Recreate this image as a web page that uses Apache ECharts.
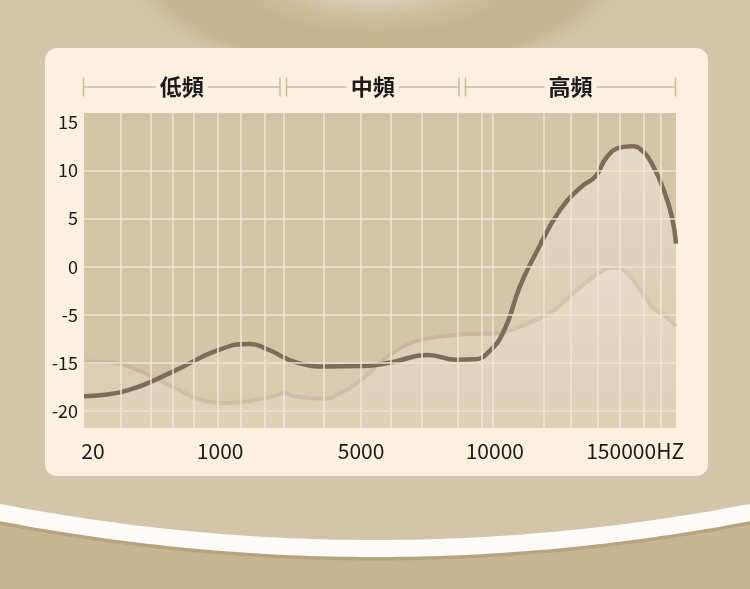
<!DOCTYPE html>
<html><head><meta charset="utf-8">
<script src="https://cdn.jsdelivr.net/npm/echarts@6/dist/echarts.min.js"></script>
<style>html,body{margin:0;padding:0;background:#d3c5a9;}#c{width:750px;height:589px;}</style>
</head><body><div id="c"></div>
<script>
// ---- data ----
const bandNames = ['低頻', '中頻', '高頻'];
const yTickValues = [15, 10, 5, 0, -5, -10, -15];
const yTickLabels = ['15', '10', '5', '0', '-5', '-15', '-20'];
const yGridLines = [10, 5, 0, -5, -10, -15];
const xTickPositions = [1.5, 23.0, 46.8, 69.4, 93.1];
const xTickLabels = ['20', '1000', '5000', '10000', '150000HZ'];
const xGridLines = [6.25, 11.32, 15.03, 18.58, 22.64, 26.52, 30.57, 33.78, 40.54, 46.79, 51.86, 57.09, 63.18, 67.23, 69.09, 77.70, 82.26, 86.82, 90.54, 94.59, 97.47];

const darkX = [0, 7.2, 15.1, 22.6, 28.0, 31.0, 36.0, 41.0, 47.0, 52.0, 58.0, 63.0, 66.0, 68.5, 71.0, 73.6, 76.0, 80.4, 84.0, 86.4, 88.3, 90.5, 92.5, 94.5, 96.2, 97.9, 99.3, 100];
const darkY = [-13.5, -12.9, -10.9, -8.7, -8.05, -8.6, -10.0, -10.4, -10.35, -9.95, -9.2, -9.7, -9.65, -8.8, -6.6, -2.1, 1.0, 5.9, 8.3, 9.4, 11.4, 12.4, 12.55, 11.95, 10.4, 8.0, 5.2, 2.4];

const lightX = [0, 4.0, 8.0, 15.0, 20.0, 24.5, 29.0, 32.5, 33.8, 35.3, 40.5, 43.3, 46.8, 50.0, 54.0, 58.0, 64.0, 70.0, 73.6, 79.0, 82.0, 85.0, 88.0, 89.7, 91.2, 92.8, 94.5, 96.2, 97.9, 100];
const lightY = [-9.87, -9.95, -10.5, -12.5, -13.9, -14.2, -13.85, -13.4, -13.15, -13.5, -13.75, -13.15, -11.8, -10.0, -8.3, -7.5, -7.05, -6.92, -6.25, -4.7, -3.1, -1.55, -0.3, -0.08, -0.35, -1.4, -2.95, -4.3, -5.0, -6.2];

// ---- chart ----
const chart = echarts.init(document.getElementById('c'), null, {renderer: 'canvas'});
const pairs = (xs, ys) => xs.map((x, i) => [x, ys[i]]);
const nearestLabel = (vals, labels, v) => {
  let bi = 0;
  vals.forEach((t, i) => { if (Math.abs(t - v) < Math.abs(vals[bi] - v)) bi = i; });
  return labels[bi];
};
const FONT = '"Noto Sans CJK TC", "Noto Sans", sans-serif';

// decorative background
const bandPts = [];
for (let x = -10; x <= 760; x += 10) bandPts.push([x, 548.5 - 0.000256 * (x - 375) * (x - 375)]);
const graphics = [
  {type: 'rect', z: -20, shape: {x: 0, y: 0, width: 750, height: 589}, style: {fill: '#d3c5a9'}},
  {type: 'circle', z: -19, shape: {cx: 375, cy: -35, r: 120}, scaleX: 2.2, originX: 375, originY: -35,
    style: {fill: new echarts.graphic.RadialGradient(0.5, 0.5, 0.5, [
      {offset: 0, color: '#e0d6c4'}, {offset: 0.3, color: '#d9cdb7'}, {offset: 0.45, color: '#cdbc9a'},
      {offset: 0.6, color: '#c6b48f'}, {offset: 0.85, color: '#c8b693'}, {offset: 1, color: 'rgba(211,197,169,0)'}])}},
  {type: 'polygon', z: -18, shape: {points: bandPts.concat([[760, 600], [-10, 600]])}, style: {fill: '#c8b692'}},
  {type: 'polyline', z: -17, shape: {points: bandPts.map(p => [p[0], p[1] + 3])}, style: {stroke: 'rgba(150,128,95,0.35)', lineWidth: 18, fill: null}},
  {type: 'polyline', z: -16, shape: {points: bandPts}, style: {stroke: '#fdfbf7', lineWidth: 17, fill: null}},
  {type: 'rect', z: -10, shape: {x: 45, y: 48, width: 663, height: 428, r: 12}, style: {fill: '#fcf1e1'}}
];
// header bracket
const segs = [[83.5, 280], [286.5, 459], [465.5, 675.5]];
const HY = 87;
segs.forEach((s, i) => {
  graphics.push({type: 'line', z: 10, shape: {x1: s[0], y1: HY, x2: s[1], y2: HY}, style: {stroke: '#cbb99b', lineWidth: 1.5}});
  graphics.push({type: 'line', z: 10, shape: {x1: s[0], y1: HY - 9.5, x2: s[0], y2: HY + 9.5}, style: {stroke: '#cbb99b', lineWidth: 1.5}});
  graphics.push({type: 'line', z: 10, shape: {x1: s[1], y1: HY - 9.5, x2: s[1], y2: HY + 9.5}, style: {stroke: '#cbb99b', lineWidth: 1.5}});
  graphics.push({type: 'text', z: 11, x: (s[0] + s[1]) / 2, y: HY,
    style: {text: bandNames[i], fill: '#1b1b1b', font: 'bold 22px ' + FONT, align: 'center', verticalAlign: 'middle',
      backgroundColor: '#fcf1e1', padding: [0, 4]}});
});

const option = {
  animation: false,
  graphic: {elements: graphics},
  grid: {left: 84, right: 74, top: 113, bottom: 161, show: true, backgroundColor: '#d5c5a8', borderWidth: 0},
  xAxis: {
    type: 'value', min: 0, max: 100,
    axisLine: {show: false}, axisTick: {show: false}, splitLine: {show: false},
    axisLabel: {customValues: xTickPositions, formatter: v => nearestLabel(xTickPositions, xTickLabels, v),
      margin: 13, fontSize: 21, color: '#1a1a1a', fontFamily: FONT, hideOverlap: false}
  },
  yAxis: {
    type: 'value', min: -16.8, max: 16,
    axisLine: {show: false}, axisTick: {show: false}, splitLine: {show: false},
    axisLabel: {customValues: yTickValues, formatter: v => nearestLabel(yTickValues, yTickLabels, v),
      margin: 6, fontSize: 18, color: '#1a1a1a', fontFamily: FONT}
  },
  series: [
    {
      type: 'line', z: 1, data: [], silent: true,
      markLine: {
        silent: true, symbol: ['none', 'none'], label: {show: false}, animation: false,
        lineStyle: {color: '#f1e6d2', width: 1.6, type: 'solid', opacity: 0.95},
        data: xGridLines.map(v => ({xAxis: v})).concat(yGridLines.map(v => ({yAxis: v})))
      }
    },
    {
      name: 'light', type: 'line', z: 2, smooth: true, symbol: 'none', data: pairs(lightX, lightY),
      lineStyle: {color: '#cbb69d', width: 4},
      areaStyle: {origin: 'start', color: new echarts.graphic.LinearGradient(0, 0, 0, 1, [
        {offset: 0, color: 'rgba(250,246,238,0.42)'}, {offset: 1, color: 'rgba(250,246,238,0.18)'}])}
    },
    {
      name: 'dark', type: 'line', z: 3, smooth: true, symbol: 'none', data: pairs(darkX, darkY),
      lineStyle: {color: '#7c6c58', width: 4.5},
      areaStyle: {origin: 'start', color: new echarts.graphic.LinearGradient(0, 0, 0, 1, [
        {offset: 0, color: 'rgba(250,246,238,0.6)'}, {offset: 0.5, color: 'rgba(250,246,238,0.3)'}, {offset: 1, color: 'rgba(250,246,238,0.12)'}])}
    }
  ]
};
chart.setOption(option);
</script>
</body></html>
